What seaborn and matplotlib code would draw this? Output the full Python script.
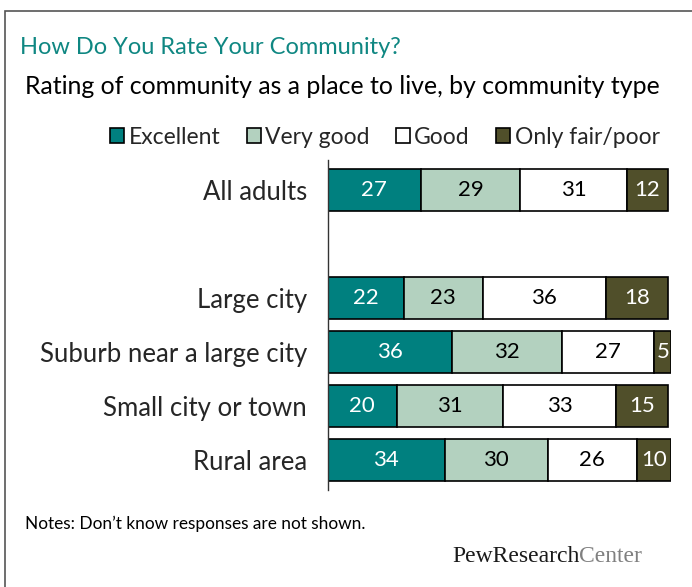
import matplotlib
matplotlib.use("Agg")
import matplotlib.pyplot as plt
from matplotlib.patches import Patch, Rectangle
import numpy as np
import pandas as pd
import seaborn as sns

# Survey results (percent)
categories = ["All adults", "Large city", "Suburb near a large city",
              "Small city or town", "Rural area"]
positions = [0, 2, 3, 4, 5]          # blank row between the total and the types
series = ["Excellent", "Very good", "Good", "Only fair/poor"]
excellent = [27, 22, 36, 20, 34]
very_good = [29, 23, 32, 31, 30]
good = [31, 36, 27, 33, 26]
fair_poor = [12, 18, 5, 15, 10]

colors = ["#00807f", "#b3d1bf", "#ffffff", "#504f2a"]
text_colors = ["white", "black", "black", "white"]

sns.set_theme(style="white")
plt.rcParams["font.family"] = ["Lato", "DejaVu Sans"]

W, H = 692, 587
fig = plt.figure(figsize=(W / 100, H / 100), dpi=100)

# panel frame (top and left edges visible)
fig.patches.append(Rectangle((5 / W, -0.05), 1.2, 1 - 11 / H + 0.05,
                             transform=fig.transFigure, fill=False,
                             edgecolor="#555555", linewidth=1.2))

ax = fig.add_axes([328 / W, 1 - 490 / H, 343.4 / W, (490 - 160) / H])

df = pd.DataFrame({"pos": positions, "Excellent": excellent,
                   "Very good": very_good, "Good": good,
                   "Only fair/poor": fair_poor})
left = np.zeros(len(df))
for s, c, tc in zip(series, colors, text_colors):
    sns.barplot(x=df[s], y=df["pos"], orient="h", native_scale=True,
                left=left, color=c, width=0.77, edgecolor="black",
                linewidth=1.2, saturation=1, ax=ax)
    for v, l, p in zip(df[s], left, df["pos"]):
        ax.text(l + v / 2, p, f"{v}", ha="center", va="center",
                color=tc, fontsize=16)
    left = left + df[s].to_numpy()

ax.set_xlim(0, 100)
ax.set_ylim(5.555, -0.555)
ax.set_xlabel("")
ax.set_ylabel("")
ax.set_xticks([])
ax.set_yticks(positions)
ax.set_yticklabels(categories, fontsize=18.5)
ax.tick_params(axis="y", length=0, pad=15)
for side in ["top", "right", "bottom"]:
    ax.spines[side].set_visible(False)
ax.spines["left"].set_color("#333333")
ax.spines["left"].set_linewidth(1.0)
ax.patch.set_alpha(0)

handles = [Patch(facecolor=c, edgecolor="black", linewidth=1.2) for c in colors]
fig.legend(handles, series, loc="center", bbox_to_anchor=(385 / W, 1 - 137 / H),
           ncol=4, frameon=False, fontsize=16.5, handlelength=0.6,
           handleheight=0.6, handletextpad=0.2, columnspacing=1.15,
           borderpad=0, borderaxespad=0)

fig.text(20 / W, 1 - 47 / H, "How Do You Rate Your Community?",
         color="#0f8782", fontsize=17, va="center", ha="left")
fig.text(25 / W, 1 - 87 / H,
         "Rating of community as a place to live, by community type",
         color="black", fontsize=17.9, va="center", ha="left")
fig.text(25 / W, 1 - 524 / H, "Notes: Don\u2019t know responses are not shown.",
         color="black", fontsize=12.4, va="center", ha="left")
pew = fig.text(452 / W, 1 - 556 / H, "PewResearch", family="Liberation Serif",
               color="#1a1a1a", fontsize=17, va="center", ha="left")
fig.add_artist(plt.Annotation("Center", xy=(1, 0), xycoords=pew,
                              va="bottom", ha="left", family="Liberation Serif",
                              color="#808080", fontsize=17))

fig.savefig("out.png", dpi=100)
